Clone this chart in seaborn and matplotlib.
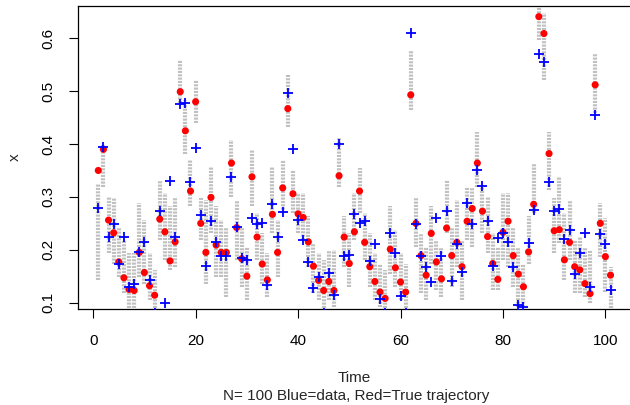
import matplotlib
matplotlib.use("Agg")
import matplotlib.pyplot as plt
import numpy as np
import pandas as pd
import seaborn as sns

# time index of the trajectory
time = list(range(1, 102))

# red dots: true trajectory
true_x = [0.350, 0.390, 0.256, 0.232, 0.177, 0.147, 0.125, 0.123, 0.195, 0.157,
          0.132, 0.114, 0.258, 0.234, 0.179, 0.215, 0.499, 0.425, 0.311, 0.480,
          0.250, 0.195, 0.299, 0.209, 0.195, 0.195, 0.364, 0.242, 0.183, 0.150,
          0.338, 0.224, 0.173, 0.143, 0.267, 0.195, 0.317, 0.467, 0.306, 0.268,
          0.261, 0.215, 0.169, 0.142, 0.123, 0.140, 0.123, 0.340, 0.224, 0.174,
          0.234, 0.311, 0.214, 0.168, 0.140, 0.120, 0.108, 0.201, 0.166, 0.139,
          0.120, 0.493, 0.250, 0.189, 0.152, 0.231, 0.177, 0.145, 0.241, 0.189,
          0.214, 0.168, 0.254, 0.278, 0.364, 0.273, 0.225, 0.174, 0.144, 0.233,
          0.254, 0.189, 0.154, 0.130, 0.196, 0.286, 0.641, 0.609, 0.382, 0.236,
          0.238, 0.181, 0.214, 0.168, 0.162, 0.136, 0.117, 0.512, 0.250, 0.187,
          0.152]

# blue crosses: observed data (a few fall below the plotted range)
data_x = [0.279, 0.394, 0.225, 0.249, 0.174, 0.224, 0.130, 0.135, 0.195, 0.214,
          0.143, 0.080, 0.274, 0.099, 0.331, 0.224, 0.475, 0.478, 0.328, 0.393,
          0.265, 0.170, 0.254, 0.215, 0.189, 0.189, 0.338, 0.244, 0.184, 0.181,
          0.261, 0.249, 0.251, 0.133, 0.286, 0.225, 0.272, 0.496, 0.390, 0.256,
          0.218, 0.177, 0.128, 0.149, 0.080, 0.157, 0.114, 0.401, 0.188, 0.191,
          0.268, 0.250, 0.255, 0.179, 0.210, 0.106, 0.080, 0.232, 0.194, 0.113,
          0.080, 0.610, 0.248, 0.189, 0.168, 0.139, 0.260, 0.189, 0.273, 0.140,
          0.211, 0.158, 0.288, 0.248, 0.350, 0.321, 0.255, 0.169, 0.222, 0.232,
          0.215, 0.168, 0.0955, 0.092, 0.213, 0.275, 0.570, 0.555, 0.329, 0.274,
          0.277, 0.221, 0.237, 0.154, 0.193, 0.231, 0.129, 0.455, 0.230, 0.210,
          0.123]

# grey sample clouds: lower / upper extent per time step
cloud_lo = [0.143, 0.319, 0.193, 0.174, 0.149, 0.118, 0.089, 0.089, 0.149, 0.136,
            0.105, 0.089, 0.218, 0.181, 0.162, 0.168, 0.477, 0.382, 0.282, 0.439,
            0.218, 0.136, 0.231, 0.149, 0.149, 0.111, 0.300, 0.181, 0.130, 0.105,
            0.282, 0.181, 0.136, 0.111, 0.231, 0.149, 0.269, 0.433, 0.269, 0.231,
            0.218, 0.168, 0.118, 0.105, 0.089, 0.105, 0.092, 0.319, 0.168, 0.130,
            0.218, 0.269, 0.181, 0.130, 0.105, 0.092, 0.089, 0.155, 0.130, 0.105,
            0.089, 0.464, 0.206, 0.118, 0.105, 0.174, 0.124, 0.111, 0.231, 0.130,
            0.168, 0.105, 0.218, 0.206, 0.319, 0.231, 0.193, 0.124, 0.124, 0.181,
            0.168, 0.130, 0.092, 0.092, 0.174, 0.269, 0.597, 0.521, 0.313, 0.193,
            0.212, 0.143, 0.181, 0.118, 0.118, 0.111, 0.099, 0.458, 0.187, 0.120,
            0.090]
cloud_hi = [0.325, 0.401, 0.300, 0.297, 0.244, 0.218, 0.193, 0.193, 0.288, 0.256,
            0.193, 0.162, 0.332, 0.307, 0.282, 0.300, 0.559, 0.483, 0.370, 0.521,
            0.300, 0.294, 0.357, 0.282, 0.256, 0.244, 0.408, 0.294, 0.244, 0.206,
            0.389, 0.269, 0.231, 0.193, 0.357, 0.256, 0.370, 0.531, 0.351, 0.307,
            0.307, 0.263, 0.212, 0.193, 0.181, 0.200, 0.200, 0.414, 0.263, 0.231,
            0.307, 0.354, 0.269, 0.231, 0.193, 0.174, 0.162, 0.282, 0.237, 0.193,
            0.174, 0.578, 0.297, 0.231, 0.206, 0.282, 0.218, 0.206, 0.332, 0.244,
            0.294, 0.218, 0.319, 0.319, 0.423, 0.319, 0.300, 0.231, 0.206, 0.307,
            0.307, 0.244, 0.206, 0.174, 0.263, 0.364, 0.663, 0.647, 0.423, 0.297,
            0.338, 0.269, 0.294, 0.218, 0.225, 0.206, 0.200, 0.572, 0.288, 0.260,
            0.168]

df = pd.DataFrame({"Time": time, "true": true_x, "data": data_x,
                   "lo": cloud_lo, "hi": cloud_hi})

sns.set_style("ticks")
plt.rcParams["font.family"] = ["Liberation Sans", "DejaVu Sans"]
plt.rcParams["font.size"] = 11

fig = plt.figure(figsize=(6.3, 4.05), dpi=100)
ax = fig.add_axes([0.1235, 0.2363, 0.8781, 0.7497])

# sample clouds as dotted grey columns
ax.vlines(df["Time"], df["lo"], df["hi"], colors="#c0c0c0", linewidth=3.0,
          linestyles=(0, (0.5, 0.3)), zorder=1)

sns.scatterplot(data=df, x="Time", y="true", ax=ax, color="#ff0000", s=26,
                edgecolor="none", linewidth=0, zorder=3)
sns.scatterplot(data=df, x="Time", y="data", ax=ax, color="#0000ff", marker="+",
                s=48, linewidth=1.3, zorder=4)

ax.set_xlim(-3, 105)
ax.set_ylim(0.0874, 0.6617)
ax.set_xticks([0, 20, 40, 60, 80, 100])
ax.set_yticks([0.1, 0.2, 0.3, 0.4, 0.5, 0.6])
ax.set_yticklabels(["0.1", "0.2", "0.3", "0.4", "0.5", "0.6"], rotation=90, va="center")

for s in ax.spines.values():
    s.set_color("black")
    s.set_linewidth(0.9)
ax.tick_params(axis="both", length=6.5, width=0.8, color="black", labelcolor="black")
ax.tick_params(axis="y", pad=10)
ax.tick_params(axis="x", pad=11)

ax.set_xlabel("Time", labelpad=17)
ax.set_ylabel("x", labelpad=14)
fig.text(0.566, 1 - 396 / 405, "N= 100 Blue=data, Red=True trajectory",
         ha="center", va="center", fontsize=11)

fig.savefig("out.png", dpi=100)
